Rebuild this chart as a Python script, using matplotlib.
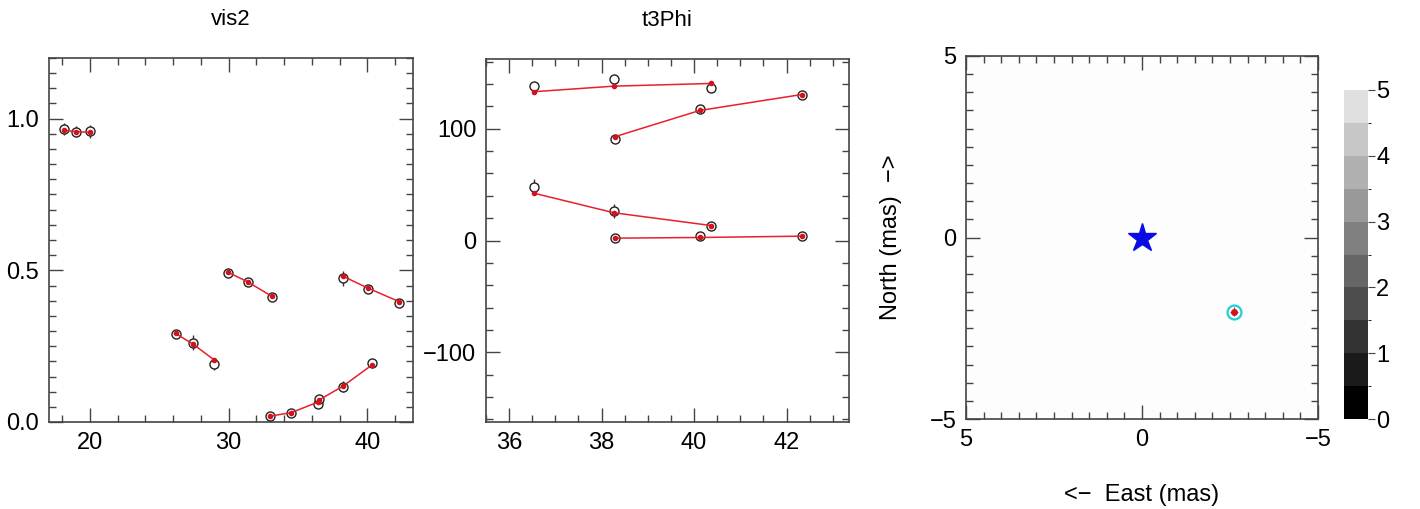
import numpy as np
import matplotlib
matplotlib.use("Agg")
import matplotlib.pyplot as plt
from matplotlib.colors import ListedColormap, BoundaryNorm
from matplotlib.ticker import MultipleLocator
import matplotlib.colorbar as mcolorbar

plt.rcParams["font.family"] = ["Liberation Sans", "DejaVu Sans"]

# vis2: groups of (baseline, observed, error, model)
vis2_x = [
    [18.14, 18.99, 20.0],
    [26.17, 27.42, 28.92],
    [29.98, 31.37, 33.13],
    [38.27, 40.07, 42.29],
    [32.96, 34.53, 36.46, 36.50, 38.24, 40.31],
]
vis2_obs = [
    [0.965, 0.957, 0.958],
    [0.290, 0.261, 0.192],
    [0.491, 0.460, 0.412],
    [0.474, 0.438, 0.391],
    [0.019, 0.030, 0.060, 0.076, 0.116, 0.195],
]
vis2_err = [
    [0.020, 0.018, 0.022],
    [0.006, 0.025, 0.020],
    [0.005, 0.006, 0.006],
    [0.025, 0.012, 0.008],
    [0.004, 0.005, 0.010, 0.012, 0.018, 0.008],
]
vis2_mod = [
    [0.962, 0.957, 0.955],
    [0.292, 0.257, 0.206],
    [0.493, 0.462, 0.414],
    [0.480, 0.441, 0.397],
    [0.019, 0.031, 0.066, 0.072, 0.118, 0.187],
]

# t3Phi: groups of (max baseline, observed, error, model)
t3_x = [
    [36.53, 38.27, 40.37],
    [38.30, 40.12, 42.33],
    [36.53, 38.27, 40.37],
    [38.30, 40.12, 42.33],
]
t3_obs = [
    [137.9, 144.4, 136.1],
    [91.0, 117.6, 130.1],
    [47.8, 26.3, 13.1],
    [1.8, 3.9, 3.9],
]
t3_err = [
    [2.0, 2.0, 2.0],
    [2.5, 2.5, 2.0],
    [7.0, 6.0, 2.0],
    [1.5, 1.5, 1.5],
]
t3_mod = [
    [133.2, 138.2, 140.6],
    [93.1, 116.4, 130.7],
    [42.4, 24.8, 13.4],
    [2.1, 2.7, 3.9],
]

# companion position (mas) and chi2 colour levels
comp_east = -2.62
comp_north = -2.04
chi2_levels = [0, 0.5, 1, 1.5, 2, 2.5, 3, 3.5, 4, 4.5, 5]
grey_values = [0.0, 0.1, 0.2, 0.3, 0.4, 0.5, 0.6, 0.69, 0.78, 0.88]

W, H = 1420, 509
fig = plt.figure(figsize=(W / 100, H / 100), dpi=100)


def px_axes(left, top, right, bottom):
    return fig.add_axes([left / W, 1 - bottom / H, (right - left) / W, (bottom - top) / H])


def style(ax):
    for s in ax.spines.values():
        s.set_color("#444444")
        s.set_linewidth(1.2)
    ax.tick_params(which="both", direction="in", top=True, right=True,
                   color="#444444", labelsize=17, pad=7)
    ax.tick_params(which="major", length=10, width=1.0)
    ax.tick_params(which="minor", length=5, width=1.0)


def draw_groups(ax, xs, obs, err, mod):
    for x, o, e, m in zip(xs, obs, err, mod):
        ax.errorbar(x, o, yerr=e, fmt="none", ecolor="#333333", elinewidth=1.0, zorder=2)
        ax.plot(x, o, "o", mfc="white", mec="#222222", ms=6.5, mew=1.0, zorder=3)
        ax.plot(x, m, "-", color="#e8202a", lw=1.1, zorder=4)
        ax.plot(x, m, "o", color="#d4121c", ms=3, zorder=5)


# vis2 panel
ax1 = px_axes(49, 58, 413, 422)
draw_groups(ax1, vis2_x, vis2_obs, vis2_err, vis2_mod)
ax1.set_xlim(17.04, 43.3)
ax1.set_ylim(0, 1.2)
ax1.xaxis.set_major_locator(MultipleLocator(10))
ax1.xaxis.set_minor_locator(MultipleLocator(2))
ax1.yaxis.set_minor_locator(MultipleLocator(0.05))
ax1.set_yticks([0.0, 0.5, 1.0])
ax1.set_yticklabels(["0.0", "0.5", "1.0"])
style(ax1)
ax1.set_title("vis2", fontsize=16, pad=24)

# t3Phi panel
ax2 = px_axes(486, 59, 849, 422)
draw_groups(ax2, t3_x, t3_obs, t3_err, t3_mod)
ax2.set_xlim(35.5, 43.35)
ax2.set_ylim(-162.5, 162.5)
ax2.xaxis.set_major_locator(MultipleLocator(2))
ax2.xaxis.set_minor_locator(MultipleLocator(0.5))
ax2.yaxis.set_major_locator(MultipleLocator(100))
ax2.yaxis.set_minor_locator(MultipleLocator(20))
style(ax2)
ax2.set_title("t3Phi", fontsize=16, pad=24)

# separation map panel
ax3 = px_axes(966, 56, 1318, 419)
ax3.set_facecolor("#fdfdfd")
ax3.plot([0], [0], marker="*", color="#0a0ae6", ms=21, ls="none", zorder=3)
ax3.errorbar([comp_east], [comp_north], xerr=0.12, yerr=0.12, fmt="none",
             ecolor="#555555", elinewidth=0.8, zorder=3)
ax3.plot([comp_east], [comp_north], "o", mfc="none", mec="#20d0d8", ms=10, mew=1.6, zorder=4)
ax3.plot([comp_east], [comp_north], "o", color="#d4121c", ms=4, zorder=5)
ax3.set_xlim(5, -5)
ax3.set_ylim(-5, 5)
ax3.xaxis.set_major_locator(MultipleLocator(5))
ax3.xaxis.set_minor_locator(MultipleLocator(0.5))
ax3.yaxis.set_major_locator(MultipleLocator(5))
ax3.yaxis.set_minor_locator(MultipleLocator(0.5))
style(ax3)
ax3.set_xlabel("<\u2212  East (mas)", fontsize=17, labelpad=24)
ax3.set_ylabel("North (mas)  \u2212>", fontsize=17, labelpad=20)

# colour bar
cax = px_axes(1344, 90, 1368, 419)
cmap = ListedColormap([(g, g, g) for g in grey_values])
norm = BoundaryNorm(chi2_levels, cmap.N)
cb = mcolorbar.ColorbarBase(cax, cmap=cmap, norm=norm, boundaries=chi2_levels,
                            ticks=[0, 1, 2, 3, 4, 5], orientation="vertical")
cb.outline.set_visible(False)
cax.tick_params(length=5, width=0.8, color="#444444", labelsize=17, pad=1)
cax.set_yticklabels(["0", "1", "2", "3", "4", "5"])

fig.savefig("out.png", dpi=100, facecolor="white")
